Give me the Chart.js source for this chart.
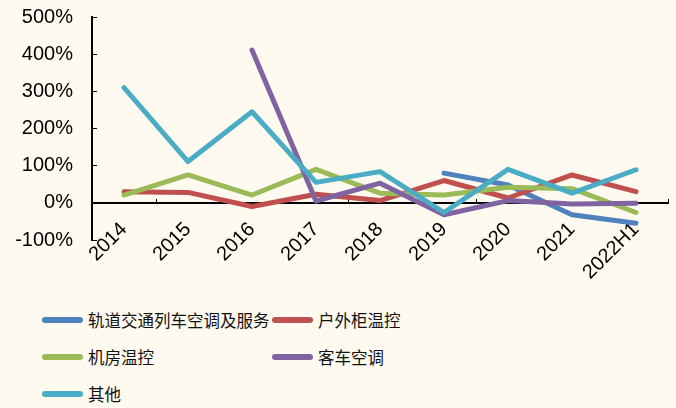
<!DOCTYPE html>
<html>
<head>
<meta charset="utf-8">
<script src="https://cdn.jsdelivr.net/npm/chart.js@4.4.1/dist/chart.umd.min.js"></script>
<style>
  html, body { margin: 0; padding: 0; background: #fefaf0; }
  #wrap { position: relative; width: 676px; height: 408px; overflow: hidden; background: #fefaf0; }
  #chart { position: absolute; left: 0; top: 0; }
  #legend {
    position: absolute; left: 42px; top: 301px;
    display: grid; grid-template-columns: 230px 230px; grid-auto-rows: 37px;
    font-family: "Noto Sans CJK SC", sans-serif; font-size: 16.5px; color: #111;
  }
  .item { display: flex; align-items: center; white-space: nowrap; }
  .swatch { width: 41px; height: 6px; border-radius: 3px; margin-right: 5px; flex: none; }
</style>
</head>
<body>
<div id="wrap">
  <canvas id="chart" width="676" height="300"></canvas>
  <div id="legend"></div>
</div>
<script>
// categories
const years = ['2014', '2015', '2016', '2017', '2018', '2019', '2020', '2021', '2022H1'];

// growth rates in %
const railAC = [null, null, null, null, null, 80, 48, -32, -55];
const outdoorCabinet = [30, 28, -10, 23, 6, 60, 13, 75, 30];
const roomControl = [21, 75, 21, 90, 26, 21, 42, 38, -26];
const busAC = [null, null, 411, 5, 53, -32, 6, -3, -1];
const others = [310, 111, 245, 55, 84, -26, 90, 26, 89];

const seriesNames = ['轨道交通列车空调及服务', '户外柜温控', '机房温控', '客车空调', '其他'];
const seriesColors = ['#4f81bd', '#c0504d', '#9bbb59', '#8064a2', '#4bacc6'];
const seriesData = [railAC, outdoorCabinet, roomControl, busAC, others];

// y axis range
const yMin = -100;
const yMax = 500;
const yStep = 100;

const tickFont = { family: '"Liberation Sans", Arial, sans-serif', size: 20 };

// build datasets, later series drawn on top
const datasets = seriesData.map((data, i) => ({
  label: seriesNames[i],
  data: data,
  borderColor: seriesColors[i],
  backgroundColor: seriesColors[i],
  borderWidth: 5,
  borderCapStyle: 'round',
  borderJoinStyle: 'round',
  pointRadius: 0,
  tension: 0,
  spanGaps: false,
  order: seriesData.length - i
}));

const ctx = document.getElementById('chart').getContext('2d');
new Chart(ctx, {
  type: 'line',
  data: { labels: years, datasets: datasets },
  options: {
    responsive: false,
    animation: false,
    devicePixelRatio: 1,
    layout: { padding: { top: 17, right: 8, bottom: 60, left: 0 } },
    plugins: {
      legend: { display: false },
      tooltip: { enabled: false }
    },
    scales: {
      x: {
        position: { y: 0 },
        offset: true,
        grid: { offset: true, drawOnChartArea: false, tickLength: -5, color: '#000', lineWidth: 1 },
        border: { color: '#000', width: 2 },
        ticks: {
          font: tickFont, color: '#000', padding: 20,
          maxRotation: 45, minRotation: 45, autoSkip: false
        },
        afterFit: scale => {
          scale.height = 0;
          scale.paddingLeft = 0;
          scale.paddingRight = 0;
        }
      },
      y: {
        min: yMin,
        max: yMax,
        grid: { drawOnChartArea: false, tickLength: -5, color: '#000', lineWidth: 1 },
        border: { color: '#000', width: 2 },
        ticks: {
          stepSize: yStep, font: tickFont, color: '#000', padding: 24,
          callback: v => v + '%'
        },
        afterFit: scale => {
          scale.width = 92;
          scale.paddingTop = 0;
          scale.paddingBottom = 0;
        }
      }
    }
  }
});

// legend in two columns
const legendEl = document.getElementById('legend');
seriesNames.forEach((name, i) => {
  const item = document.createElement('div');
  item.className = 'item';
  const sw = document.createElement('span');
  sw.className = 'swatch';
  sw.style.background = seriesColors[i];
  const txt = document.createElement('span');
  txt.textContent = name;
  item.appendChild(sw);
  item.appendChild(txt);
  legendEl.appendChild(item);
});
</script>
</body>
</html>
